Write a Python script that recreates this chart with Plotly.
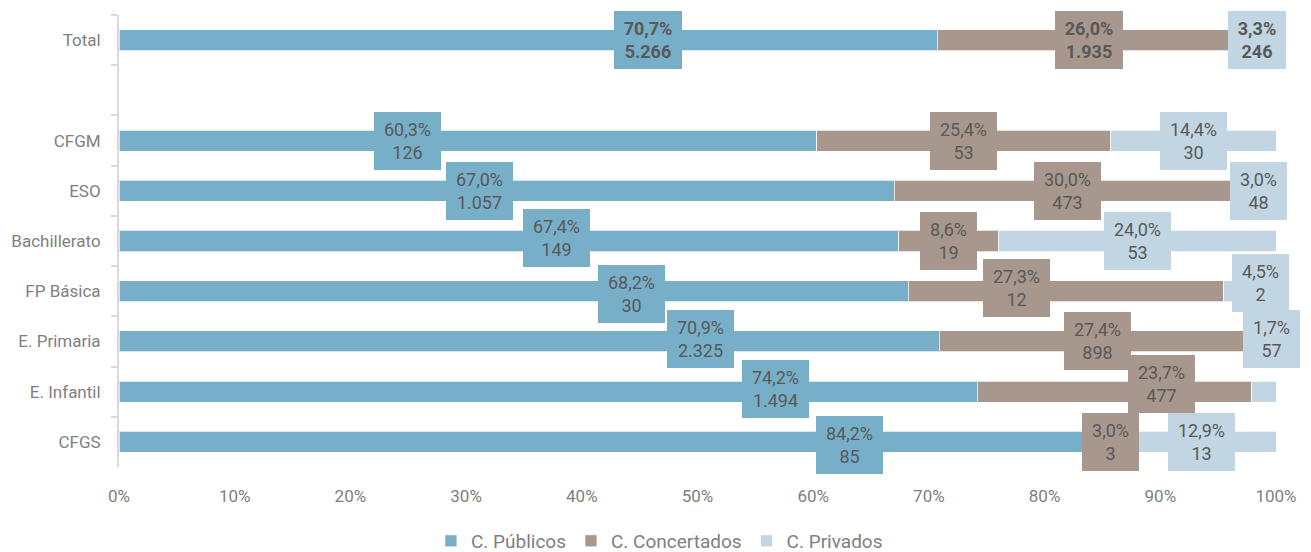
import plotly.graph_objects as go

categories = ["Total", " ", "CFGM", "ESO", "Bachillerato", "FP Básica", "E. Primaria", "E. Infantil", "CFGS"]

publicos_pct = [70.7, None, 60.3, 67.0, 67.4, 68.2, 70.9, 74.2, 84.2]
publicos_n = [5266, None, 126, 1057, 149, 30, 2325, 1494, 85]
concertados_pct = [26.0, None, 25.4, 30.0, 8.6, 27.3, 27.4, 23.7, 3.0]
concertados_n = [1935, None, 53, 473, 19, 12, 898, 477, 3]
privados_pct = [3.3, None, 14.4, 3.0, 24.0, 4.5, 1.7, 2.1, 12.9]
privados_n = [246, None, 30, 48, 53, 2, 57, 43, 13]

x_ticks = [0, 10, 20, 30, 40, 50, 60, 70, 80, 90, 100]
x_tick_labels = [f"{t}%" for t in x_ticks]

series_names = ["C. Públicos", "C. Concertados", "C. Privados"]
colors = ["#77AEC8", "#A8978C", "#C2D5E2"]

# label placement (style): x position in axis units and vertical pixel shift
label_x = [
    [45.7, None, 24.9, 31.2, 37.8, 44.3, 50.3, 56.7, 63.1],
    [83.8, None, 73.0, 82.0, 71.7, 77.6, 84.6, 90.1, 85.7],
    [98.4, None, 92.9, 98.5, 88.0, 98.7, 99.6, 100.6, 93.6],
]
label_dy = [
    [0, None, 0, 0, 3, -3, 2, 3, -3],
    [0, None, 0, 0, 0, 3, 0, 8, 0],
    [0, None, 0, 0, 0, 8, 2, -8, 0],
]

FONT = "Roboto, Liberation Sans, sans-serif"


def fmt_pct(v):
    return f"{v:.1f}".replace(".", ",") + "%"


def fmt_n(n):
    return f"{n:,}".replace(",", ".")


fig = go.Figure()
pcts = [publicos_pct, concertados_pct, privados_pct]
counts = [publicos_n, concertados_n, privados_n]

for name, col, vals in zip(series_names, colors, pcts):
    fig.add_trace(go.Bar(
        y=categories, x=vals, orientation="h", name=name,
        marker=dict(color=col, line=dict(color="rgba(255,255,255,0.7)", width=1)),
        hoverinfo="skip",
    ))

annotations = []
for s in range(3):
    for i, cat in enumerate(categories):
        v = pcts[s][i]
        if v is None:
            continue
        p = fmt_pct(v)
        n = fmt_n(counts[s][i])
        bold = cat == "Total"
        txt = f"<b>{p}<br>{n}</b>" if bold else f"{p}<br>{n}"
        w = (58 if len(p) > 4 else 48) if bold else (57 if len(p) > 4 else 47)
        annotations.append(dict(
            x=label_x[s][i], y=cat, xref="x", yref="y", text=txt,
            showarrow=False, bgcolor=colors[s], width=w, height=48,
            borderpad=4, borderwidth=1, bordercolor=colors[s],
            yshift=label_dy[s][i],
            font=dict(family=FONT, size=18, color="#595959"),
            align="center", valign="middle",
        ))

fig.update_layout(
    barmode="stack",
    bargap=0.58,
    width=1311, height=552,
    margin=dict(l=119, r=35, t=15, b=85, autoexpand=False),
    paper_bgcolor="white", plot_bgcolor="white",
    font=dict(family=FONT, color="#808080", size=17),
    annotations=annotations,
    legend=dict(
        orientation="h", xref="container", yref="container",
        x=0.503, y=0.02, xanchor="center", yanchor="middle",
        font=dict(size=19, color="#808080", family=FONT),
        itemwidth=30, traceorder="normal",
    ),
    xaxis=dict(
        range=[0, 100], tickmode="array", tickvals=x_ticks, ticktext=x_tick_labels,
        showgrid=False, zeroline=False, showline=False, automargin=False,
        tickfont=dict(size=17, color="#808080"), ticks="", ticklabelstandoff=17,
    ),
    yaxis=dict(
        categoryorder="array", categoryarray=categories,
        range=[8.5, -0.5], showgrid=False, zeroline=False, automargin=False,
        showline=True, linecolor="#D9D9D9", linewidth=2,
        ticks="outside", ticklen=6, tickcolor="#D9D9D9", tickwidth=2,
        tickson="boundaries", ticklabelstandoff=13,
        tickfont=dict(size=17, color="#808080"),
    ),
)

fig.write_html(
    "out.html",
    config={"displayModeBar": False},
    post_script="document.body.style.margin='0';document.body.style.overflow='hidden';",
)
